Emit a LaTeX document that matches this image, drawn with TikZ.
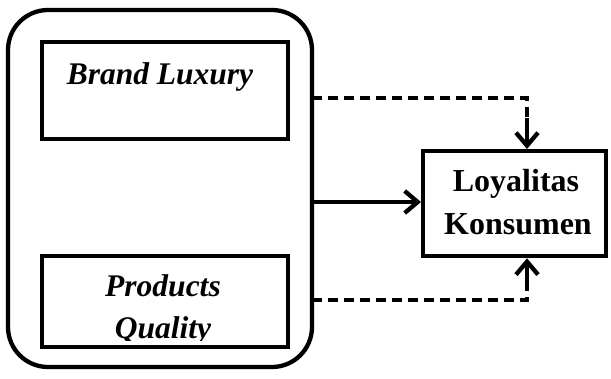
\documentclass[tikz,border=0pt]{standalone}
\usepackage{fontspec}
\setmainfont{Liberation Serif}
\usetikzlibrary{arrows.meta}
\begin{document}
\begin{tikzpicture}[x=1pt,y=-1pt,
  lw/.style={line width=4.3pt},
  tip/.style={-{Straight Barb[length=13pt,width=22pt,line width=4.3pt]}},
  dsh/.style={lw,dash pattern=on 10pt off 6pt},
  lbl/.style={font=\fontsize{31.5}{38}\selectfont\bfseries\itshape}]
\useasboundingbox (0,0) rectangle (611,379);
\draw[lw,rounded corners=40pt] (8,10) rectangle (312,367);
\node[draw,lw,minimum width=246pt,minimum height=97pt,anchor=north west] (bl) at (40,40) {};
\node[lbl,anchor=base] (blt) at (160,85) {Brand Luxury};
\node[draw,lw,minimum width=246pt,minimum height=91pt,anchor=north west] (pq) at (40,254) {};
\begin{scope}
\clip (40,254) rectangle (286,340.5);
\node[lbl,anchor=base] (pqt1) at (163,297) {Products};
\node[lbl,anchor=base] (pqt2) at (163,339) {Quality};
\end{scope}
\node[draw,lw,minimum width=183pt,minimum height=105pt,anchor=north west] (lk) at (421,149) {};
\node[font=\fontsize{32}{38}\selectfont\bfseries,anchor=base] (lk1) at (516,192) {Loyalitas};
\node[font=\fontsize{32}{38}\selectfont\bfseries,anchor=base] (lk2) at (518,235) {Konsumen};
\coordinate (s1) at (312,98);
\coordinate (s2) at (312,202);
\coordinate (s3) at (312,300);
\coordinate (c1) at (527,98);
\coordinate (c3) at (527,300);
\draw[dsh] (s1) -- (c1) -- ++(0,22);
\draw[lw,tip] (527,118) -- (lk.north -| c1);
\draw[lw,tip] (s2) -- (lk.west |- s2);
\draw[dsh] (s3) -- (c3) -- ++(0,-20);
\draw[lw,tip] (527,282) -- (lk.south -| c3);
\end{tikzpicture}
\end{document}
